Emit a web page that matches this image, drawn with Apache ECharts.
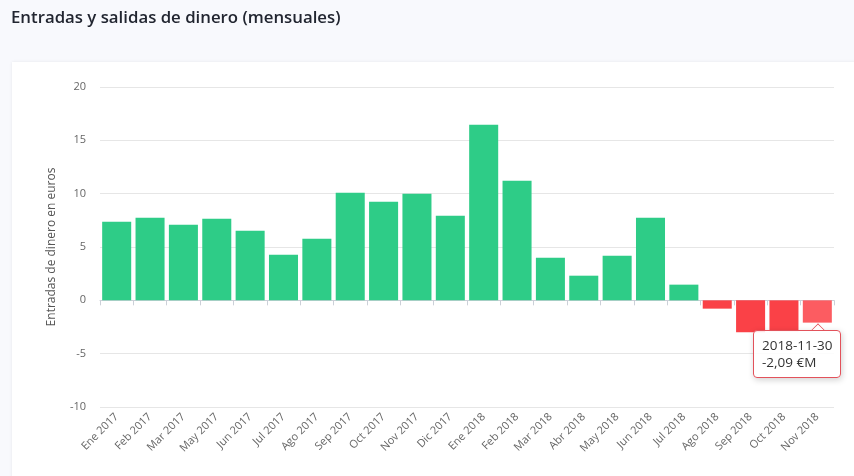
<!DOCTYPE html>
<html>
<head>
<meta charset="utf-8">
<script src="https://cdn.jsdelivr.net/npm/echarts@6/dist/echarts.min.js"></script>
<style>
html,body{margin:0;padding:0;width:854px;height:476px;overflow:hidden;background:#f8f9fd;}
#card{position:absolute;left:12px;top:62px;width:860px;height:430px;background:#fff;box-shadow:0 0 3px rgba(0,0,0,0.08);}
#chart{position:absolute;left:0;top:0;width:854px;height:476px;}
</style>
</head>
<body>
<div id="card"></div>
<div id="chart"></div>
<script>
const titulo = 'Entradas y salidas de dinero (mensuales)';
const nombreEje = 'Entradas de dinero en euros';
const categorias = ['Ene 2017','Feb 2017','Mar 2017','May 2017','Jun 2017','Jul 2017','Ago 2017','Sep 2017','Oct 2017','Nov 2017','Dic 2017',
  'Ene 2018','Feb 2018','Mar 2018','Abr 2018','May 2018','Jun 2018','Jul 2018','Ago 2018','Sep 2018','Oct 2018','Nov 2018'];
const fechas = ['2017-01-31','2017-02-28','2017-03-31','2017-05-31','2017-06-30','2017-07-31','2017-08-31','2017-09-30','2017-10-31','2017-11-30','2017-12-31',
  '2018-01-31','2018-02-28','2018-03-31','2018-04-30','2018-05-31','2018-06-30','2018-07-31','2018-08-31','2018-09-30','2018-10-31','2018-11-30'];
const valores = [7.37, 7.74, 7.09, 7.65, 6.53, 4.28, 5.78, 10.08, 9.24, 9.99, 7.93,
  16.45, 11.21, 4.00, 2.31, 4.19, 7.74, 1.47, -0.78, -3.00, -2.90, -2.09];
const yTicks = {min: -10, max: 20, interval: 5};

const verde = '#2ecc87', verdeClaro = '#4fd89c';
const rojo = '#fa4147', rojoClaro = '#fc5c61';
const bordeTip = '#e2525b';
const fondoTip = 'rgba(255,255,255,0.86)';

const chart = echarts.init(document.getElementById('chart'), null, {renderer: 'canvas'});
const datos = valores.map(v => ({
  value: v,
  itemStyle: {color: v >= 0 ? verde : rojo},
  emphasis: {itemStyle: {color: v >= 0 ? verdeClaro : rojoClaro}}
}));
const flecha = '<div style="position:absolute;top:-6px;left:59px;width:9px;height:9px;background:#fff;' +
  'border-left:1px solid ' + bordeTip + ';border-top:1px solid ' + bordeTip + ';transform:rotate(45deg);clip-path:polygon(0 0,100% 0,0 100%);"></div>';
chart.setOption({
  animation: false,
  textStyle: {fontFamily: '"Open Sans", sans-serif'},
  title: {
    text: titulo, left: 6, top: 5,
    textStyle: {fontSize: 16.8, fontWeight: 600, color: '#222631', fontFamily: '"Open Sans", sans-serif'}
  },
  grid: {left: 100, right: 20, top: 87, bottom: 69},
  tooltip: {
    trigger: 'item',
    transitionDuration: 0,
    backgroundColor: fondoTip,
    borderColor: bordeTip,
    borderWidth: 1,
    padding: [6, 8],
    extraCssText: 'box-shadow:1px 2px 6px rgba(0,0,0,0.18);',
    textStyle: {fontSize: 13.5, color: '#333', fontFamily: '"Open Sans", sans-serif', lineHeight: 17},
    position: (pt, params, dom, rect, size) => [rect.x + rect.width / 2 - 64, rect.y + rect.height + 7],
    formatter: p => flecha + fechas[p.dataIndex] + '<br>' + p.value.toFixed(2).replace('.', ',') + ' €M'
  },
  xAxis: {
    type: 'category',
    data: categorias,
    axisLine: {lineStyle: {color: '#ccd0d8'}},
    axisTick: {show: true, alignWithLabel: false, length: 5, lineStyle: {color: '#ccd0d8'}},
    axisLabel: {rotate: 45, fontSize: 11, color: '#666', margin: 8, interval: 0}
  },
  yAxis: {
    type: 'value',
    min: yTicks.min, max: yTicks.max, interval: yTicks.interval,
    name: nombreEje,
    nameLocation: 'middle',
    nameGap: 42,
    nameTextStyle: {fontSize: 12, color: '#555'},
    axisLine: {show: false},
    axisTick: {show: false},
    axisLabel: {fontSize: 11, color: '#666', margin: 14},
    splitLine: {lineStyle: {color: '#e6e6e6'}}
  },
  series: [{
    type: 'bar',
    data: datos,
    barCategoryGap: '13%'
  }]
});
chart.dispatchAction({type: 'highlight', seriesIndex: 0, dataIndex: 21});
chart.dispatchAction({type: 'showTip', seriesIndex: 0, dataIndex: 21});
</script>
</body>
</html>
